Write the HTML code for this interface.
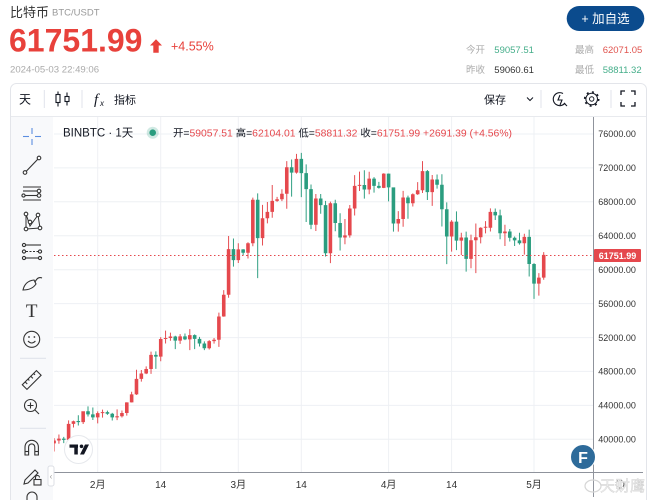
<!DOCTYPE html>
<html><head><meta charset="utf-8">
<style>
html,body{margin:0;padding:0;background:#fff;width:658px;height:500px;overflow:hidden}
svg{display:block}
</style></head>
<body>
<svg width="658" height="500" viewBox="0 0 658 500" xmlns="http://www.w3.org/2000/svg" font-family="'Liberation Sans','Noto Sans CJK SC',sans-serif">
<defs>
<clipPath id="cp"><rect x="54" y="117" width="539" height="355"/></clipPath>
</defs>
<!-- header -->
<text x="10" y="17" font-size="13" fill="#333">比特币</text>
<text x="52" y="15.7" font-size="9.5" fill="#999">BTC/USDT</text>
<text x="9" y="51.7" font-size="32" font-weight="bold" fill="#e8413b">61751.99</text>
<polygon points="156,39.3 162,45.5 158.7,45.5 158.7,52.7 153.3,52.7 153.3,45.5 150,45.5" fill="#e8413b"/>
<text x="171" y="50.7" font-size="12.5" fill="#e8413b">+4.55%</text>
<text x="10" y="72.7" font-size="9.6" fill="#aaa">2024-05-03 22:49:06</text>
<rect x="566.7" y="6" width="77.6" height="25" rx="12.5" fill="#0b4b8d"/>
<text x="605.5" y="22.8" font-size="12.5" fill="#fff" text-anchor="middle">+ 加自选</text>
<text x="466" y="53" font-size="9.5" fill="#aaa">今开</text>
<text x="494.3" y="53" font-size="9.5" fill="#45ae8a">59057.51</text>
<text x="575" y="53" font-size="9.5" fill="#aaa">最高</text>
<text x="602.7" y="53" font-size="9.5" fill="#e0534d">62071.05</text>
<text x="466" y="73" font-size="9.5" fill="#aaa">昨收</text>
<text x="494.3" y="73" font-size="9.5" fill="#333">59060.61</text>
<text x="575" y="73" font-size="9.5" fill="#aaa">最低</text>
<text x="602.7" y="73" font-size="9.5" fill="#45ae8a">58811.32</text>

<!-- container -->
<rect x="10.5" y="83.5" width="636" height="430" rx="6" fill="#fff" stroke="#e3e5ea"/>
<line x1="11" y1="116.5" x2="646" y2="116.5" stroke="#e8eaee"/>
<!-- toolbar -->
<text x="19" y="103.5" font-size="12" fill="#131722">天</text>
<line x1="44.3" y1="90" x2="44.3" y2="108" stroke="#e0e3eb"/>
<g stroke="#131722" stroke-width="1.1" fill="none">
<line x1="58" y1="91.5" x2="58" y2="106.5"/><rect x="56" y="94.5" width="4" height="8" fill="#fff"/>
<line x1="67" y1="92.5" x2="67" y2="105.5"/><rect x="65" y="96.5" width="4" height="5" fill="#fff"/>
</g>
<line x1="82" y1="90" x2="82" y2="108" stroke="#e0e3eb"/>
<text x="94" y="104" font-size="15" font-style="italic" font-family="'Liberation Serif',serif" fill="#131722">f</text>
<text x="100" y="106" font-size="8" font-style="italic" fill="#131722">x</text>
<text x="114" y="103.3" font-size="11" fill="#131722">指标</text>
<text x="484" y="103.3" font-size="11" fill="#131722">保存</text>
<polyline points="527,97.5 530,100.5 533,97.5" fill="none" stroke="#131722" stroke-width="1"/>
<line x1="541" y1="90" x2="541" y2="108" stroke="#e0e3eb"/>
<g fill="none" stroke="#131722" stroke-width="1.1">
<path d="M563 93.5 A6.5 6.5 0 1 0 565 103"/>
<path d="M560 95 l-2 5 h4 l-2 5"/>
<line x1="564" y1="103" x2="567" y2="106"/>
<circle cx="591.7" cy="99" r="5.8" stroke-width="1"/>
<circle cx="591.7" cy="99" r="2.2" stroke-width="1"/>
<circle cx="591.7" cy="99" r="7" stroke-width="1.6" stroke-dasharray="2 3.5"/>
</g>
<line x1="611" y1="90" x2="611" y2="108" stroke="#e0e3eb"/>
<g fill="none" stroke="#131722" stroke-width="1.3">
<path d="M621 95 v-4 h4 M631 91 h4 v4 M635 102 v4 h-4 M625 106 h-4 v-4"/>
</g>

<!-- left panel -->
<rect x="11" y="117" width="42" height="383" fill="#f8f9fb"/>
<g stroke="#5b8de0" stroke-width="1.1">
<line x1="23" y1="136.5" x2="29" y2="136.5"/><line x1="35" y1="136.5" x2="41" y2="136.5"/>
<line x1="32" y1="128" x2="32" y2="134"/><line x1="32" y1="139" x2="32" y2="145"/>
</g>
<g fill="none" stroke="#333" stroke-width="1.1">
<line x1="26" y1="171.5" x2="38" y2="159"/>
<circle cx="25" cy="172.5" r="1.8" fill="#fff"/><circle cx="39" cy="158" r="1.8" fill="#fff"/>
<line x1="23" y1="187" x2="41" y2="187"/>
<line x1="23" y1="191" x2="37" y2="191"/><circle cx="39" cy="191" r="1.8"/>
<line x1="25" y1="195.5" x2="37" y2="195.5"/><circle cx="23.5" cy="195.5" r="1.6"/><circle cx="39" cy="195.5" r="1.8"/>
<line x1="23" y1="200" x2="41" y2="200"/>
<path d="M26 214 L30 226 L38 215 L40 228 L26 229 Z" stroke-width="1"/>
<circle cx="26" cy="214" r="1.8" fill="#fff"/><circle cx="38" cy="215" r="1.8" fill="#fff"/><circle cx="30" cy="222" r="1.8" fill="#fff"/><circle cx="26" cy="229" r="1.8" fill="#fff"/><circle cx="40" cy="228" r="1.8" fill="#fff"/>
<line x1="26" y1="245" x2="41" y2="245"/><circle cx="24" cy="245" r="1.6"/>
<line x1="26" y1="251.5" x2="38" y2="251.5" stroke-dasharray="2 1.5"/><circle cx="24" cy="251.5" r="1.6"/><circle cx="40" cy="251.5" r="1.6"/>
<line x1="26" y1="258" x2="38" y2="258"/><circle cx="24" cy="258" r="1.6"/><circle cx="40" cy="258" r="1.6"/>
<path d="M23 290 Q25 281 34 280 L36 284 Q32 290 23 290 Z"/>
<path d="M35 282 Q38 276 42 278"/>
<circle cx="31.7" cy="339.3" r="8"/>
<path d="M28 341 Q31.7 345 35.4 341"/>
<line x1="20" y1="358.3" x2="46" y2="358.3" stroke="#e0e3eb"/>
<g transform="translate(31.7 380) rotate(-45)"><rect x="-10" y="-3.3" width="20" height="6.6"/><path d="M-6 -3.3 v3 M-2 -3.3 v2 M2 -3.3 v3 M6 -3.3 v2"/></g>
<circle cx="30.5" cy="405.5" r="6"/><line x1="35" y1="410" x2="39" y2="414"/>
<path d="M30.5 402.5 v6 M27.5 405.5 h6"/>
<line x1="20" y1="428.3" x2="46" y2="428.3" stroke="#e0e3eb"/>
<path d="M25 455 V447 a6.7 6.7 0 0 1 13.4 0 V455 h-3.6 V447 a3.1 3.1 0 0 0 -6.2 0 V455 Z"/>
<line x1="25" y1="451.5" x2="28.6" y2="451.5"/><line x1="34.8" y1="451.5" x2="38.4" y2="451.5"/>
<path d="M24 484 l1 -4 l10 -10 l3 3 l-10 10 z"/>
<rect x="34" y="479.5" width="7" height="5.5"/><path d="M35.5 479.5 v-2 a2 2 0 0 1 4 0"/>
<path d="M27 500 v-3 a5 5 0 0 1 10 0 v3"/>
</g>
<text x="31.7" y="317" font-size="19" font-family="'Liberation Serif',serif" fill="#333" text-anchor="middle">T</text>
<circle cx="29" cy="337" r="0.9" fill="#333"/><circle cx="34.4" cy="337" r="0.9" fill="#333"/>

<!-- grid -->
<g stroke="#eef0f4" stroke-width="1">
<line x1="54" y1="134" x2="593" y2="134"/>
<line x1="54" y1="167.9" x2="593" y2="167.9"/>
<line x1="54" y1="201.8" x2="593" y2="201.8"/>
<line x1="54" y1="235.8" x2="593" y2="235.8"/>
<line x1="54" y1="269.7" x2="593" y2="269.7"/>
<line x1="54" y1="303.6" x2="593" y2="303.6"/>
<line x1="54" y1="337.6" x2="593" y2="337.6"/>
<line x1="54" y1="371.4" x2="593" y2="371.4"/>
<line x1="54" y1="405.4" x2="593" y2="405.4"/>
<line x1="54" y1="439.3" x2="593" y2="439.3"/>
<line x1="97.7" y1="117" x2="97.7" y2="472"/>
<line x1="160.7" y1="117" x2="160.7" y2="472"/>
<line x1="238.3" y1="117" x2="238.3" y2="472"/>
<line x1="301.3" y1="117" x2="301.3" y2="472"/>
<line x1="388.6" y1="117" x2="388.6" y2="472"/>
<line x1="451.6" y1="117" x2="451.6" y2="472"/>
<line x1="534" y1="117" x2="534" y2="472"/>
</g>

<!-- candles -->
<g clip-path="url(#cp)">
<g transform="matrix(4.848 0 0 -8.48 97.7 778.48)">
<path fill="#e5484d" d="M-9.1 38.56h.2V40.13h-.2zM-9.37 39.52h.74V39.85h-.74zM-8.1 39.48h.2V40.56h-.2zM-8.37 39.85h.74V40.08h-.74zM-6.1 39.83h.2V42.23h-.2zM-6.37 39.93h.74V41.82h-.74zM-5.1 41.39h.2V42.2h-.2zM-5.37 41.82h.74V42.12h-.74zM-3.1 41.8h.2V43.31h-.2zM-3.37 42.03h.74V43.3h-.74zM-.1 41.88h.2V43.29h-.2zM-.37 42.58h.74V43.08h-.74zM.9 42.56h.2V43.49h-.2zM.63 43.08h.74V43.2h-.74zM3.9 42.26h.2V43.53h-.2zM3.63 42.58h.74V42.71h-.74zM4.9 42.57h.2V43.4h-.2zM4.63 42.71h.74V43.1h-.74zM5.9 42.79h.2V44.37h-.2zM5.63 43.1h.74V44.35h-.74zM6.9 44.33h.2V45.6h-.2zM6.63 44.35h.74V45.29h-.74zM7.9 45.24h.2V48.2h-.2zM7.63 45.29h.74V47.13h-.74zM8.9 46.8h.2V48.17h-.2zM8.63 47.13h.74V47.75h-.74zM9.9 47.69h.2V48.59h-.2zM9.63 47.75h.74V48.29h-.74zM10.9 47.71h.2V50.33h-.2zM10.63 48.29h.74V49.96h-.74zM12.9 49.2h.2V52.04h-.2zM12.63 49.74h.74V51.83h-.74zM13.9 51.3h.2V52.82h-.2zM13.63 51.83h.74V51.95h-.74zM14.9 51.62h.2V52.57h-.2zM14.63 51.94h.74V52.12h-.74zM16.9 51.25h.2V52.4h-.2zM16.63 51.64h.74V52.14h-.74zM18.9 50.52h.2V52.99h-.2zM18.63 51.78h.74V52.28h-.74zM22.9 50.58h.2V51.7h-.2zM22.63 50.73h.74V51.57h-.74zM23.9 51.28h.2V51.95h-.2zM23.63 51.57h.74V51.73h-.74zM24.9 50.9h.2V54.94h-.2zM24.63 51.73h.74V54.48h-.74zM25.9 54.45h.2V57.59h-.2zM25.63 54.48h.74V57.04h-.74zM26.9 56.69h.2V63.97h-.2zM26.63 57.04h.74V62.43h-.74zM28.9 60.79h.2V63.11h-.2zM28.63 61.13h.74V62.39h-.74zM30.9 61.32h.2V63.23h-.2zM30.63 61.99h.74V63.11h-.74zM31.9 62.77h.2V68.5h-.2zM31.63 63.11h.74V68.25h-.74zM33.9 62.85h.2V67.64h-.2zM33.63 63.72h.74V66.07h-.74zM34.9 65.46h.2V67.98h-.2zM34.63 66.07h.74V66.82h-.74zM35.9 66.13h.2V69.99h-.2zM35.63 66.82h.74V68.12h-.74zM36.9 67.99h.2V68.59h-.2zM36.63 68.12h.74V68.31h-.74zM37.9 68.09h.2V69.48h-.2zM37.63 68.31h.74V68.96h-.74zM38.9 67.19h.2V72.8h-.2zM38.63 68.96h.74V72.08h-.74zM40.9 71.33h.2V73.65h-.2zM40.63 71.45h.74V73.07h-.74zM44.9 64.56h.2V68.92h-.2zM44.63 65.3h.74V68.39h-.74zM47.9 60.78h.2V68.03h-.2zM47.63 61.94h.74V67.84h-.74zM50.9 63h.2V65.98h-.2zM50.63 63.8h.74V64.04h-.74zM51.9 63.78h.2V67.62h-.2zM51.63 64.04h.74V67.21h-.74zM52.9 66.39h.2V71.15h-.2zM52.63 67.21h.74V69.88h-.74zM53.9 69.28h.2V71.56h-.2zM53.63 69.88h.74V70h-.74zM55.9 68.9h.2V71.55h-.2zM55.63 69.46h.74V70.74h-.74zM58.9 69.61h.2V71.37h-.2zM58.63 69.65h.74V71.33h-.74zM61.9 64.49h.2V66.91h-.2zM61.63 65.45h.74V65.98h-.74zM62.9 65.06h.2V69.29h-.2zM62.63 65.98h.74V68.51h-.74zM64.9 67.45h.2V69h-.2zM64.63 67.84h.74V68.9h-.74zM65.9 68.82h.2V70.33h-.2zM65.63 68.9h.74V69.36h-.74zM66.9 69.04h.2V72.8h-.2zM66.63 69.36h.74V71.62h-.74zM68.9 67.52h.2V71.17h-.2zM68.63 69.15h.74V70.63h-.74zM72.9 62.13h.2V65.84h-.2zM72.63 63.92h.74V65.66h-.74zM74.9 61.71h.2V64.36h-.2zM74.63 63.42h.74V63.79h-.74zM76.9 60.17h.2V64.13h-.2zM76.63 61.28h.74V63.47h-.74zM77.9 59.6h.2V65.45h-.2zM77.63 63.47h.74V63.82h-.74zM78.9 63.1h.2V65h-.2zM78.63 63.82h.74V64.94h-.74zM79.9 64.28h.2V65.72h-.2zM79.63 64.94h.74V65.06h-.74zM80.9 64.5h.2V67.23h-.2zM80.63 64.94h.74V66.82h-.74zM83.9 62.79h.2V65.3h-.2zM83.63 64.29h.74V64.5h-.74zM87.9 61.77h.2V64.23h-.2zM87.63 63.12h.74V63.87h-.74zM90.9 56.94h.2V59.6h-.2zM90.63 58.36h.74V59.06h-.74zM91.9 58.81h.2V62.07h-.2zM91.63 59.06h.74V61.75h-.74z"/>
<path fill="#2a9d7f" d="M-7.1 39.55h.2V40.29h-.2zM-7.37 39.93h.74V40.08h-.74zM-4.1 41.62h.2V42.84h-.2zM-4.37 42.03h.74V42.15h-.74zM-2.1 42.68h.2V43.88h-.2zM-2.37 42.94h.74V43.3h-.74zM-1.1 42.28h.2V43.75h-.2zM-1.37 42.58h.74V42.94h-.74zM1.9 42.88h.2V43.38h-.2zM1.63 43.01h.74V43.2h-.74zM2.9 42.22h.2V43.12h-.2zM2.63 42.58h.74V43.01h-.74zM11.9 48.3h.2V50.37h-.2zM11.63 49.74h.74V49.96h-.74zM15.9 50.63h.2V52.21h-.2zM15.63 51.64h.74V52.12h-.74zM17.9 51.7h.2V52.48h-.2zM17.63 51.78h.74V52.14h-.74zM19.9 50.63h.2V52.37h-.2zM19.63 51.84h.74V52.28h-.74zM20.9 50.94h.2V52.07h-.2zM20.63 51.3h.74V51.84h-.74zM21.9 50.52h.2V51.55h-.2zM21.63 50.73h.74V51.3h-.74zM27.9 60.36h.2V63.68h-.2zM27.63 61.13h.74V62.43h-.74zM29.9 61.7h.2V62.43h-.2zM29.63 61.99h.74V62.39h-.74zM32.9 59.01h.2V69h-.2zM32.63 63.72h.74V68.25h-.74zM39.9 68.62h.2V73h-.2zM39.63 71.45h.74V72.08h-.74zM41.9 68.56h.2V73.78h-.2zM41.63 71.39h.74V73.07h-.74zM42.9 65.63h.2V72.42h-.2zM42.63 69.5h.74V71.39h-.74zM43.9 64.78h.2V70.04h-.2zM43.63 65.3h.74V69.5h-.74zM45.9 66.6h.2V68.92h-.2zM45.63 67.61h.74V68.39h-.74zM46.9 61.56h.2V68.12h-.2zM46.63 61.94h.74V67.61h-.74zM48.9 64.53h.2V68.24h-.2zM48.63 65.5h.74V67.84h-.74zM49.9 62.26h.2V66.65h-.2zM49.63 63.8h.74V65.5h-.74zM54.9 68.38h.2V71.73h-.2zM54.63 69.46h.74V69.99h-.74zM56.9 69.08h.2V70.91h-.2zM56.63 69.89h.74V70.74h-.74zM57.9 69.56h.2V70.36h-.2zM57.63 69.65h.74V69.89h-.74zM59.9 68.06h.2V71.34h-.2zM59.63 69.7h.74V71.33h-.74zM60.9 64.49h.2V69.71h-.2zM60.63 65.45h.74V69.7h-.74zM63.9 66h.2V68.73h-.2zM63.63 67.84h.74V68.51h-.74zM67.9 68.21h.2V71.76h-.2zM67.63 69.15h.74V71.62h-.74zM69.9 69.56h.2V71.23h-.2zM69.63 70.01h.74V70.63h-.74zM70.9 65.09h.2V71.26h-.2zM70.63 67.12h.74V70.01h-.74zM71.9 60.66h.2V67.93h-.2zM71.63 63.92h.74V67.12h-.74zM73.9 62.3h.2V66.87h-.2zM73.63 63.42h.74V65.66h-.74zM75.9 59.77h.2V64.49h-.2zM75.63 61.28h.74V63.79h-.74zM81.9 65.86h.2V67.21h-.2zM81.63 66.41h.74V66.82h-.74zM82.9 63.59h.2V67.08h-.2zM82.63 64.29h.74V66.41h-.74zM84.9 63.32h.2V64.79h-.2zM84.63 63.77h.74V64.5h-.74zM85.9 62.79h.2V63.92h-.2zM85.63 63.46h.74V63.77h-.74zM86.9 62.95h.2V64.36h-.2zM86.63 63.12h.74V63.46h-.74zM88.9 59.19h.2V64.73h-.2zM88.63 60.67h.74V63.87h-.74zM89.9 56.55h.2V60.78h-.2zM89.63 58.36h.74V60.67h-.74z"/>
</g>
</g>

<!-- price line -->
<line x1="54" y1="255.5" x2="593" y2="255.5" stroke="#e5484d" stroke-width="1" stroke-dasharray="1.5 2.5"/>

<!-- legend -->
<text x="63" y="136.5" font-size="11.5" fill="#131722">BINBTC · 1天</text>
<circle cx="152.7" cy="132.7" r="6" fill="#2a9d7f" fill-opacity="0.22"/>
<circle cx="152.7" cy="132.7" r="3.3" fill="#2a9d7f"/>
<text x="173" y="136.3" font-size="10.4" fill="#131722">开=<tspan fill="#e5484d">59057.51</tspan> 高=<tspan fill="#e5484d">62104.01</tspan> 低=<tspan fill="#e5484d">58811.32</tspan> 收=<tspan fill="#e5484d">61751.99</tspan> <tspan fill="#e5484d">+2691.39 (+4.56%)</tspan></text>

<!-- axes -->
<line x1="593.5" y1="117" x2="593.5" y2="497" stroke="#8f939c" stroke-width="1"/>
<line x1="54" y1="472.5" x2="643" y2="472.5" stroke="#8f939c" stroke-width="1"/>
<g font-size="9" fill="#333">
<text x="598.3" y="137.2">76000.00</text>
<text x="598.3" y="171.1">72000.00</text>
<text x="598.3" y="205">68000.00</text>
<text x="598.3" y="239">64000.00</text>
<text x="598.3" y="272.9">60000.00</text>
<text x="598.3" y="306.8">56000.00</text>
<text x="598.3" y="340.8">52000.00</text>
<text x="598.3" y="374.6">48000.00</text>
<text x="598.3" y="408.6">44000.00</text>
<text x="598.3" y="442.5">40000.00</text>
</g>
<rect x="594" y="249" width="47" height="13" rx="1" fill="#e5484d"/>
<text x="617.5" y="258.8" font-size="9" font-weight="bold" fill="#fff" text-anchor="middle">61751.99</text>
<g font-size="10" fill="#333" text-anchor="middle">
<text x="97.7" y="488">2月</text>
<text x="160.7" y="488">14</text>
<text x="238.3" y="488">3月</text>
<text x="301.3" y="488">14</text>
<text x="388.6" y="488">4月</text>
<text x="451.6" y="488">14</text>
<text x="534" y="488">5月</text>
</g>
<circle cx="620" cy="484" r="4" fill="none" stroke="#555" stroke-width="1" stroke-dasharray="3 1.5"/>

<!-- collapse handle -->
<rect x="48" y="466" width="6" height="20" rx="2" fill="#fff" stroke="#dcdfe5"/>
<text x="51" y="479" font-size="8" fill="#999" text-anchor="middle">‹</text>

<!-- TV logo -->
<circle cx="78.5" cy="449.5" r="14" fill="#fff" stroke="#e6e8ec"/>
<rect x="69.5" y="444.5" width="8.5" height="3.2" fill="#131722"/>
<rect x="74.3" y="444.5" width="3.5" height="10" fill="#131722"/>
<circle cx="81.5" cy="446.3" r="1.8" fill="#131722"/>
<polygon points="85,444.5 89,444.5 84,454.5 80,454.5" fill="#131722"/>

<!-- F logo -->
<circle cx="583" cy="457" r="12.5" fill="#2e6b9a" stroke="#fff" stroke-width="1"/>
<text x="583" y="463" font-size="16" font-weight="bold" fill="#fff" text-anchor="middle">F</text>

<!-- watermark -->
<ellipse cx="593" cy="486" rx="8" ry="6" fill="none" stroke="#d6d6d6" stroke-width="1.2"/>
<text x="600" y="491" font-size="15" fill="#ececec" stroke="#d2d2d2" stroke-width="0.4">天财鹰</text>
</svg>
</body></html>
